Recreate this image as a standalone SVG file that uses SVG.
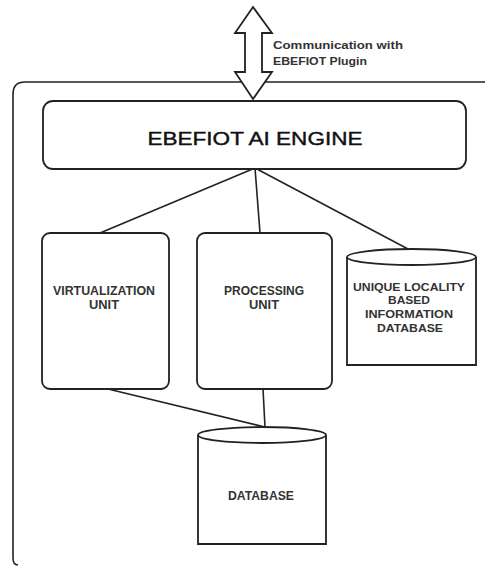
<svg xmlns="http://www.w3.org/2000/svg" width="485" height="568" viewBox="0 0 485 568">
<style>
.s{fill:#fff;stroke:#222;stroke-width:1.8}
.c{fill:none;stroke:#222;stroke-width:1.6}
.t{font-family:"Liberation Sans","DejaVu Sans",sans-serif;font-weight:bold;fill:#333;text-anchor:middle;font-size:12px}
.l{text-anchor:start;font-size:11.5px}
.u{font-size:11px}
</style>
<rect width="485" height="568" fill="#fff"/>
<g id="frame"><path class="c" d="M500 82 H25 Q13 82 13 94 V558 Q13 565 18 565"/></g>
<g id="connectors">
<line class="c" x1="255" y1="168" x2="100" y2="233"/>
<line class="c" x1="255" y1="168" x2="260" y2="233"/>
<line class="c" x1="255" y1="168" x2="408" y2="249"/>
<line class="c" x1="108" y1="389" x2="265" y2="427"/>
<line class="c" x1="263" y1="389" x2="265" y2="427"/>
</g>
<g id="plugin">
<path class="s" d="M253 7 L272 33 L262 33 L262 72 L272 72 L253 99 L235 72 L245 72 L245 33 L235 33 Z"/>
<text class="t l" x="273" y="49" textLength="130" lengthAdjust="spacingAndGlyphs">Communication with</text>
<text class="t l" x="273" y="65" textLength="94" lengthAdjust="spacingAndGlyphs">EBEFIOT Plugin</text>
</g>
<g id="engine">
<rect class="s" x="43" y="101" width="423" height="68" rx="10"/>
<text class="t" x="255" y="145" style="font-size:18px;font-weight:normal;fill:#111;stroke:#111;stroke-width:0.4" textLength="215" lengthAdjust="spacingAndGlyphs">EBEFIOT AI ENGINE</text>
</g>
<g id="virtualization">
<rect class="s" x="42" y="233" width="127" height="156" rx="8"/>
<text class="t" x="104" y="295" textLength="102" lengthAdjust="spacingAndGlyphs">VIRTUALIZATION</text>
<text class="t" x="104" y="309" textLength="30" lengthAdjust="spacingAndGlyphs">UNIT</text>
</g>
<g id="processing">
<rect class="s" x="197" y="233" width="135" height="156" rx="8"/>
<text class="t" x="264" y="295" textLength="80" lengthAdjust="spacingAndGlyphs">PROCESSING</text>
<text class="t" x="264" y="309" textLength="30" lengthAdjust="spacingAndGlyphs">UNIT</text>
</g>
<g id="locality">
<path class="s" d="M347 257 V365 H476 V257"/>
<ellipse class="s" cx="411.5" cy="257" rx="64.5" ry="8"/>
<text class="t u" x="409" y="291" textLength="112" lengthAdjust="spacingAndGlyphs">UNIQUE LOCALITY</text>
<text class="t u" x="409" y="304" textLength="42" lengthAdjust="spacingAndGlyphs">BASED</text>
<text class="t u" x="409" y="318" textLength="88" lengthAdjust="spacingAndGlyphs">INFORMATION</text>
<text class="t u" x="410" y="332" textLength="66" lengthAdjust="spacingAndGlyphs">DATABASE</text>
</g>
<g id="database">
<path class="s" d="M198 435 V544 H326 V435"/>
<ellipse class="s" cx="262" cy="435" rx="64" ry="8"/>
<text class="t" x="261" y="500" textLength="66" lengthAdjust="spacingAndGlyphs">DATABASE</text>
</g>
</svg>
